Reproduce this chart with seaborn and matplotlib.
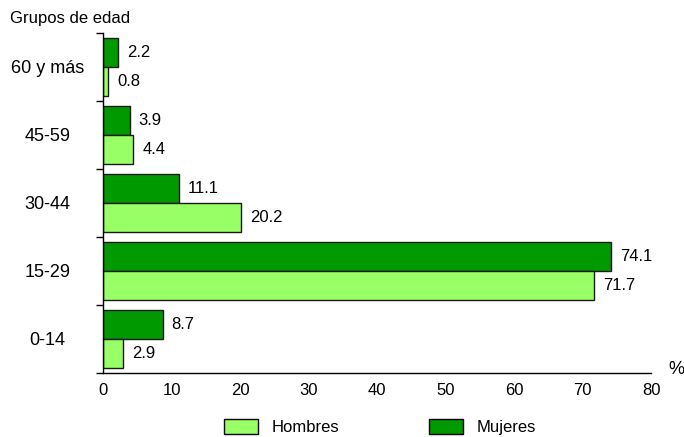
import pandas as pd
import numpy as np
import seaborn as sns
import matplotlib.pyplot as plt
from matplotlib.patches import Patch


GROUPS = ["60 y más", "45-59", "30-44", "15-29", "0-14"]
MUJERES = [2.2, 3.9, 11.1, 74.1, 8.7]
HOMBRES = [0.8, 4.4, 20.2, 71.7, 2.9]
SEXES = ["Mujeres", "Hombres"]
COLORS = {"Mujeres": "#009900", "Hombres": "#99ff66"}
X_TICKS = [0, 10, 20, 30, 40, 50, 60, 70, 80]


def build_frame():
    rows = []
    for g, m, h in zip(GROUPS, MUJERES, HOMBRES):
        rows.append({"grupo": g, "sexo": "Mujeres", "valor": m})
        rows.append({"grupo": g, "sexo": "Hombres", "valor": h})
    return pd.DataFrame(rows)


def main():
    sns.set_style("white")
    plt.rcParams["font.family"] = ["Liberation Sans", "DejaVu Sans"]
    plt.rcParams["text.color"] = "black"
    plt.rcParams["xtick.color"] = "black"
    plt.rcParams["ytick.color"] = "black"

    df = build_frame()
    fig = plt.figure(figsize=(6.84, 4.37), dpi=100)
    ax = fig.add_axes([0.1506, 0.1465, 0.8012, 0.778])

    sns.barplot(
        data=df, x="valor", y="grupo", hue="sexo",
        order=GROUPS, hue_order=SEXES, palette=COLORS, saturation=1,
        orient="h", width=0.85, edgecolor="#1a1a1a", linewidth=1.0,
        legend=False, ax=ax,
    )

    # value labels to the right of each bar
    for container in ax.containers:
        ax.bar_label(container, fmt="%.1f", padding=6.5, fontsize=12, color="black")

    ax.set_xlim(0, 80)
    ax.set_ylim(4.5, -0.5)
    ax.set_xticks(X_TICKS)
    ax.tick_params(axis="x", length=4, width=1, labelsize=12, pad=3)
    ax.tick_params(axis="y", which="major", length=0, labelsize=13, pad=40)
    for lbl in ax.get_yticklabels():
        lbl.set_horizontalalignment("center")
    ax.set_yticks(np.arange(-0.5, 5.0, 1.0), minor=True)
    ax.tick_params(axis="y", which="minor", length=5, width=1, left=True)
    ax.set_xlabel("")
    ax.set_ylabel("")

    for side in ["top", "right"]:
        ax.spines[side].set_visible(False)
    for side in ["left", "bottom"]:
        ax.spines[side].set_color("black")
        ax.spines[side].set_linewidth(1.0)

    fig.text(10 / 684, 1 - 18 / 437, "Grupos de edad", fontsize=12, va="center", ha="left")
    fig.text(676 / 684, 1 - 370 / 437, "%", fontsize=13, va="center", ha="center")

    handles = [
        Patch(facecolor=COLORS["Hombres"], edgecolor="black", label="Hombres"),
        Patch(facecolor=COLORS["Mujeres"], edgecolor="black", label="Mujeres"),
    ]
    fig.legend(
        handles=handles, loc="center", bbox_to_anchor=(0.556, 1 - 427 / 437),
        ncol=2, frameon=False, fontsize=12, handlelength=2.0, handleheight=1.0,
        columnspacing=5.4, handletextpad=0.85, borderpad=0,
    )

    fig.savefig("out.png", dpi=100)


if __name__ == "__main__":
    main()
